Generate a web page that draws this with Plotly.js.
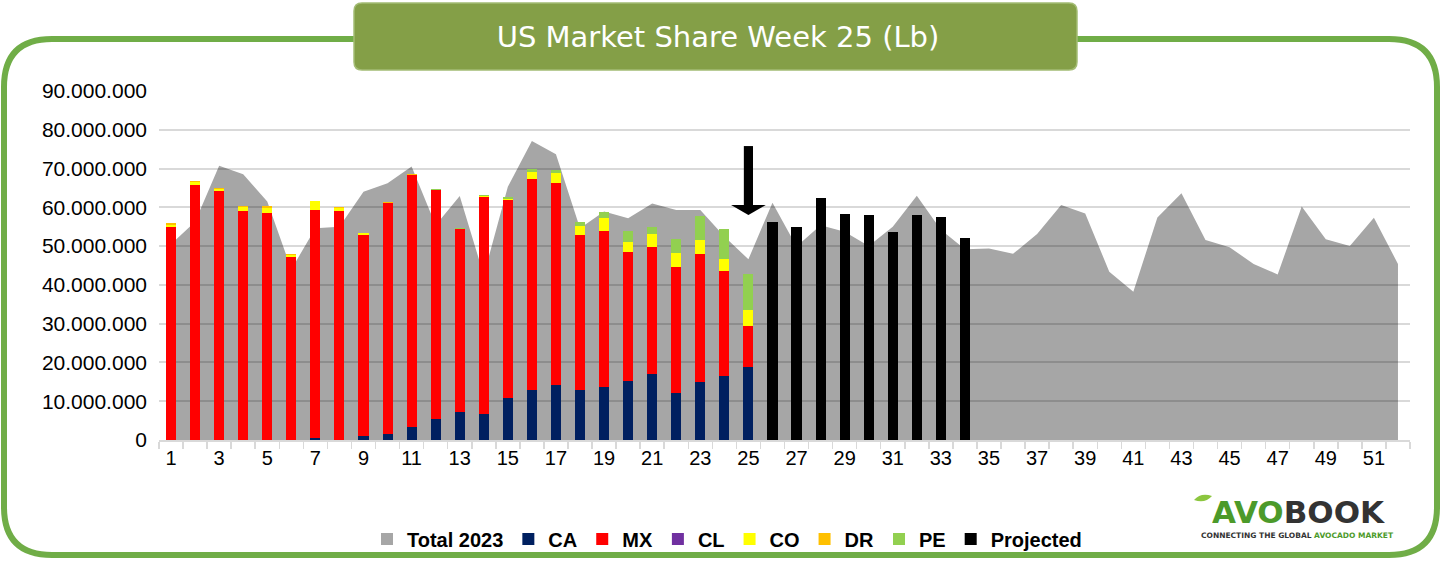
<!DOCTYPE html>
<html>
<head>
<meta charset="utf-8">
<script src="https://cdn.plot.ly/plotly-3.0.1.min.js"></script>
<style>
  html, body { margin: 0; padding: 0; background: #ffffff; }
  #chart { width: 1442px; height: 562px; }
</style>
</head>
<body>
<div id="chart"></div>
<script>
// ---------------- DATA (million lb) ----------------
const weeks = [1,2,3,4,5,6,7,8,9,10,11,12,13,14,15,16,17,18,19,20,21,22,23,24,25,26,
               27,28,29,30,31,32,33,34,35,36,37,38,39,40,41,42,43,44,45,46,47,48,49,50,51,52];
const total2023 = [50.5,56.3,70.7,68.5,61.5,44.0,54.6,55.0,64.0,66.2,70.5,55.4,62.9,42.5,65.3,77.1,
                   73.7,54.6,58.9,57.2,61.0,59.3,59.3,52.5,46.6,61.2,49.9,55.4,53.7,50.0,55.0,63.0,
                   54.2,49.2,49.4,48.0,53.1,60.6,58.4,43.4,38.2,57.4,63.6,51.6,49.7,45.4,42.7,60.2,
                   51.8,50.0,57.3,45.4];

const actualWeeks = [1,2,3,4,5,6,7,8,9,10,11,12,13,14,15,16,17,18,19,20,21,22,23,24,25];
const ca = [0,0,0,0,0,0,0.6,0,1.1,1.6,3.4,5.4,7.3,6.8,10.9,13.0,14.2,13.0,13.7,15.2,17.0,12.1,15.0,16.5,18.8];
const mx = [55.0,65.8,64.2,59.05,58.5,47.2,58.7,59.05,51.8,59.6,64.9,59.2,47.0,55.9,51.1,54.2,52.1,39.9,40.2,33.3,32.8,32.5,33.0,27.1,10.6];
const cl = [0,0,0,0,0,0,0,0,0,0,0,0,0,0,0,0,0,0,0,0,0,0,0,0,0];
const co = [0.5,0.7,0.5,1.0,1.3,0.4,2.3,0.86,0.43,0,0,0,0.1,0.3,0.2,1.9,2.6,2.3,3.35,2.6,3.35,3.6,3.6,3.1,4.1];
const dr = [0.35,0.2,0.35,0.35,0.5,0.25,0,0.2,0.1,0.25,0.2,0.0,0,0,0,0,0,0,0,0,0,0,0,0,0];
const pe = [0,0,0,0,0,0,0,0,0,0,0,0.2,0.2,0.2,0.4,0.8,0.8,1.0,1.55,2.7,1.8,3.6,6.2,7.7,9.3];

const projectedWeeks = [26,27,28,29,30,31,32,33,34];
const projected = [56.2,54.9,62.4,58.3,58.0,53.6,58.0,57.5,52.1];

const yTickVals = [0,10,20,30,40,50,60,70,80,90];
const yTickLabels = ['0','10.000.000','20.000.000','30.000.000','40.000.000','50.000.000',
                     '60.000.000','70.000.000','80.000.000','90.000.000'];
const xTickLabels = [1,3,5,7,9,11,13,15,17,19,21,23,25,27,29,31,33,35,37,39,41,43,45,47,49,51];
const currentWeek = 25;
const titleText = 'US Market Share Week 25 (Lb)';

// ---------------- LAYOUT HELPERS ----------------
const W = 1442, H = 562, ML = 159, MR = 32, MT = 91, MB = 122;
const PW = W - ML - MR, PH = H - MT - MB;
const px = x => (x - ML) / PW;
const py = y => 1 - (y - MT) / PH;
function roundRect(x0, y0, x1, y1, r) {
  const P = (x, y) => px(x).toFixed(5) + ',' + py(y).toFixed(5);
  return 'M' + P(x0 + r, y0) + ' L' + P(x1 - r, y0) + ' Q' + P(x1, y0) + ' ' + P(x1, y0 + r) +
         ' L' + P(x1, y1 - r) + ' Q' + P(x1, y1) + ' ' + P(x1 - r, y1) +
         ' L' + P(x0 + r, y1) + ' Q' + P(x0, y1) + ' ' + P(x0, y1 - r) +
         ' L' + P(x0, y0 + r) + ' Q' + P(x0, y0) + ' ' + P(x0 + r, y0) + ' Z';
}

const barW = 0.42;
const xFont = {family: 'Liberation Sans, Arial, sans-serif', size: 20, color: '#000000'};
const yFont = {family: 'Liberation Sans, Arial, sans-serif', size: 21, color: '#000000'};

function stackBar(name, xs, ys, color) {
  return {type: 'bar', name: '<b>' + name + '</b>', x: xs, y: ys, width: barW,
          marker: {color: color, line: {width: 0}}, xaxis: 'x2', yaxis: 'y2', hoverinfo: 'skip'};
}

const traces = [
  {type: 'scatter', x: weeks, y: total2023, mode: 'none', fill: 'tozeroy', fillcolor: '#A6A6A6',
   xaxis: 'x', yaxis: 'y', showlegend: false, hoverinfo: 'skip'},
  // legend entry for the area (square swatch)
  {type: 'bar', name: '<b>Total 2023</b>', x: [null], y: [null], marker: {color: '#A6A6A6'},
   xaxis: 'x2', yaxis: 'y2', hoverinfo: 'skip'},
  stackBar('CA', actualWeeks, ca, '#002060'),
  stackBar('MX', actualWeeks, mx, '#FF0000'),
  stackBar('CL', actualWeeks, cl, '#7030A0'),
  stackBar('CO', actualWeeks, co, '#FFFF00'),
  stackBar('DR', actualWeeks, dr, '#FFC000'),
  stackBar('PE', actualWeeks, pe, '#92D050'),
  stackBar('Projected', projectedWeeks, projected, '#000000')
];

const cw = currentWeek;
const layout = {
  width: W, height: H,
  margin: {l: ML, r: MR, t: MT, b: MB, pad: 0},
  paper_bgcolor: '#ffffff',
  plot_bgcolor: 'rgba(0,0,0,0)',
  barmode: 'stack',
  hovermode: false,
  title: {
    text: titleText,
    font: {family: 'DejaVu Sans, sans-serif', size: 29, color: '#ffffff'},
    xref: 'container', yref: 'container',
    x: 718 / W, xanchor: 'center',
    y: 1 - 37 / H, yanchor: 'middle'
  },
  xaxis: {
    domain: [0, 1], anchor: 'y', range: [0.5, 52.5],
    tickmode: 'array', tickvals: xTickLabels, ticktext: xTickLabels.map(String),
    ticks: '', showgrid: false, zeroline: false, showline: false,
    tickfont: xFont, ticklabelstandoff: 4, fixedrange: true
  },
  yaxis: {
    domain: [0, 1], anchor: 'x', range: [0, 90],
    showgrid: false, zeroline: false, showline: false, showticklabels: false, ticks: '',
    fixedrange: true
  },
  xaxis2: {
    domain: [0, 1], anchor: 'y2', range: [0.5, 52.5],
    tickmode: 'linear', tick0: 0.5, dtick: 1,
    ticks: 'outside', ticklen: 7, tickwidth: 1.5, tickcolor: '#D9D9D9',
    showticklabels: false, showgrid: false, zeroline: false,
    showline: true, linecolor: '#D9D9D9', linewidth: 2, fixedrange: true
  },
  yaxis2: {
    domain: [0, 1], anchor: 'x2', range: [0, 90],
    tickmode: 'array', tickvals: yTickVals, ticktext: yTickLabels,
    showgrid: true, gridcolor: 'rgba(0,0,0,0.15)', gridwidth: 2,
    zeroline: false, showline: false, ticks: '',
    tickfont: yFont, ticklabelstandoff: 11, fixedrange: true
  },
  legend: {
    orientation: 'h', xref: 'container', yref: 'container',
    x: 727 / W, xanchor: 'center', y: 1 - 539 / H, yanchor: 'middle',
    traceorder: 'normal', itemwidth: 30,
    font: {family: 'Liberation Sans, Arial, sans-serif', size: 20, color: '#000000'},
    bgcolor: 'rgba(0,0,0,0)'
  },
  shapes: [
    // outer green frame
    {type: 'path', xref: 'paper', yref: 'paper', path: roundRect(4, 39, 1437, 555, 48),
     line: {color: '#70AD47', width: 6}, fillcolor: 'rgba(0,0,0,0)', layer: 'above'},
    // title box
    {type: 'path', xref: 'paper', yref: 'paper', path: roundRect(354, 3, 1077, 70, 8),
     line: {color: '#A3BC74', width: 1.5}, fillcolor: '#849F47', layer: 'above'},
    // current-week arrow: shaft
    {type: 'rect', xref: 'x2', yref: 'y2', x0: cw - 0.19, x1: cw + 0.19, y0: 60.4, y1: 75.8,
     fillcolor: '#000000', line: {width: 0}, layer: 'above'},
    // current-week arrow: head
    {type: 'path', xref: 'x2', yref: 'y2',
     path: 'M' + (cw - 0.72) + ',60.6 L' + (cw + 0.72) + ',60.6 L' + cw + ',58.0 Z',
     fillcolor: '#000000', line: {width: 0}, layer: 'above'},
    // logo leaf
    {type: 'path', xref: 'paper', yref: 'paper',
     path: 'M' + px(1194) + ',' + py(500) + ' Q' + px(1201) + ',' + py(492) + ' ' + px(1212) + ',' + py(496) +
           ' Q' + px(1205) + ',' + py(504) + ' ' + px(1194) + ',' + py(500) + ' Z',
     fillcolor: '#8CC63F', line: {width: 0}, layer: 'above'}
  ],
  annotations: [
    {xref: 'paper', yref: 'paper', x: px(1298), y: py(512), xanchor: 'center', yanchor: 'middle',
     showarrow: false, height: 28, valign: 'middle',
     text: '<b><span style="color:#4C9A2A">AVO</span><span style="color:#333333">BOOK</span></b>',
     font: {family: 'DejaVu Sans, sans-serif', size: 31}},
    {xref: 'paper', yref: 'paper', x: px(1297), y: py(535), xanchor: 'center', yanchor: 'middle',
     showarrow: false, height: 9, valign: 'middle',
     text: '<b><span style="color:#333333">CONNECTING THE GLOBAL </span><span style="color:#4C9A2A">AVOCADO MARKET</span></b>',
     font: {family: 'DejaVu Sans, sans-serif', size: 7.5}}
  ]
};

Plotly.newPlot('chart', traces, layout, {displayModeBar: false, staticPlot: true});
</script>
</body>
</html>
